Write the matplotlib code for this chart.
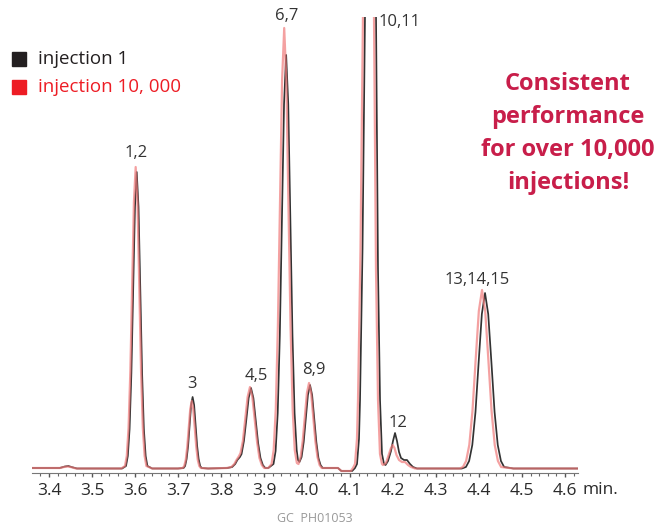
import matplotlib
matplotlib.use("Agg")
import matplotlib.pyplot as plt
from matplotlib.patches import Rectangle
from matplotlib.ticker import MultipleLocator

plt.rcParams["font.family"] = ["Open Sans", "DejaVu Sans"]

# ── Datos: cromatogramas (tiempo en min, señal arbitraria) ──
black_t = [
    3.360, 3.400, 3.425, 3.437, 3.445, 3.452, 3.465, 3.520, 3.570,
    3.5791, 3.5833, 3.5874, 3.5916, 3.5957, 3.5999, 3.6040, 3.6082, 3.6123, 3.6165, 3.6206, 3.6248, 3.6289,
    3.640, 3.700,
    3.7130, 3.7165, 3.7200, 3.7235, 3.7270, 3.7305, 3.7340, 3.7375, 3.7410, 3.7445, 3.7480, 3.7515, 3.7550,
    3.770, 3.815,
    3.8260, 3.8330, 3.8380, 3.8440, 3.8478, 3.8533, 3.8588, 3.8643, 3.8698, 3.8753, 3.8808, 3.8863, 3.8918, 3.8973, 3.9028, 3.910,
    3.9221, 3.9270, 3.9319, 3.9368, 3.9417, 3.9466, 3.9515, 3.9564, 3.9613, 3.9662, 3.9711, 3.9760, 3.9790,
    3.9825, 3.9874, 3.9923, 3.9972, 4.0021, 4.0070, 4.0119, 4.0168, 4.0217, 4.0266, 4.0315, 4.0364,
    4.045, 4.072, 4.080, 4.105,
    4.1116, 4.1163, 4.1209, 4.1233, 4.1291, 4.1349, 4.1395, 4.1477, 4.1558, 4.1605, 4.1651, 4.1698, 4.1744, 4.1791, 4.1826,
    4.1884, 4.1953, 4.2000, 4.2047, 4.2093, 4.2140, 4.2186, 4.2256, 4.2326, 4.2395, 4.2465, 4.2558,
    4.300, 4.3600,
    4.3696, 4.3770, 4.3844, 4.3918, 4.3992, 4.4066, 4.4140, 4.4214, 4.4288, 4.4362, 4.4436, 4.4510, 4.4584,
    4.480, 4.630]
black_y = [
    1, 1, 1, 2.5, 3, 2, 0.5, 0.5, 0.5,
    3, 13, 40, 96, 180, 262, 297, 262, 180, 96, 40, 13, 3,
    0.5, 0.5,
    1, 3, 10, 23, 44, 64, 72, 64, 44, 23, 10, 3, 1,
    0.5, 1,
    2, 5, 9, 12, 15, 28, 49, 71, 81, 71, 49, 26, 11, 4, 1, 1,
    5, 18, 56, 134, 251, 365, 414, 365, 251, 134, 56, 19, 9,
    7, 12, 27, 51, 74, 84, 74, 51, 27, 11, 4, 1,
    1, 1, -2, -2,
    1, 5, 30, 69, 220, 452, 700, 900, 700, 452, 200, 69, 15, 5, 4,
    8, 18, 28, 36, 28, 17, 11, 9, 9, 5, 2, 0.5,
    0.5, 0.5,
    2, 8, 24, 57, 107, 155, 176, 155, 107, 57, 24, 8, 2,
    0.5, 0.5]

red_t = [
    3.360, 3.400, 3.425, 3.435, 3.443, 3.450, 3.463, 3.520, 3.568,
    3.5767, 3.5809, 3.5850, 3.5892, 3.5933, 3.5975, 3.6016, 3.6058, 3.6099, 3.6141, 3.6182, 3.6224, 3.6265,
    3.640, 3.700,
    3.7110, 3.7145, 3.7180, 3.7215, 3.7250, 3.7285, 3.7320, 3.7355, 3.7390, 3.7425, 3.7460, 3.7495, 3.7530,
    3.770, 3.813,
    3.8240, 3.8310, 3.8360, 3.8420, 3.8454, 3.8509, 3.8564, 3.8619, 3.8674, 3.8729, 3.8784, 3.8839, 3.8894, 3.8949, 3.9004, 3.910,
    3.9176, 3.9225, 3.9274, 3.9323, 3.9372, 3.9421, 3.9470, 3.9519, 3.9568, 3.9617, 3.9666, 3.9715, 3.9764,
    3.9802, 3.9851, 3.9900, 3.9949, 3.9998, 4.0047, 4.0096, 4.0145, 4.0194, 4.0243, 4.0292, 4.0341,
    4.045, 4.072, 4.080, 4.102,
    4.1069, 4.1116, 4.1162, 4.1186, 4.1244, 4.1302, 4.1348, 4.1430, 4.1511, 4.1558, 4.1604, 4.1651, 4.1697, 4.1744, 4.1767,
    4.1837, 4.1907, 4.1953, 4.1993, 4.2035, 4.2081, 4.2140, 4.2209, 4.2279, 4.2349, 4.2419, 4.2512,
    4.300, 4.3550,
    4.3626, 4.3700, 4.3774, 4.3848, 4.3922, 4.3996, 4.4070, 4.4144, 4.4218, 4.4292, 4.4366, 4.4440, 4.4514,
    4.480, 4.630]
red_y = [
    1, 1, 1, 2, 2.5, 2, 0.5, 0.5, 0.5,
    3, 13, 41, 98, 183, 267, 302, 267, 183, 98, 41, 13, 3,
    0.5, 0.5,
    1, 3, 9, 22, 41, 60, 68, 60, 41, 22, 9, 3, 1,
    0.5, 1,
    2, 5, 9, 13, 16, 28, 50, 72, 82, 72, 50, 27, 11, 4, 1, 1,
    5, 19, 60, 143, 267, 389, 441, 389, 267, 143, 60, 19, 6,
    5, 12, 28, 52, 76, 86, 76, 52, 28, 12, 4, 1,
    1, 1, -2, -2,
    1, 5, 30, 69, 220, 452, 700, 900, 700, 452, 200, 69, 15, 5, 4,
    6, 15, 21, 24, 21, 14, 9, 7, 7, 4, 2, 0.5,
    0.5, 0.5,
    2, 8, 24, 58, 109, 158, 179, 158, 109, 58, 24, 8, 2,
    0.5, 0.5]

peak_names = ["1,2", "3", "4,5", "6,7", "8,9", "10,11", "12", "13,14,15"]
peak_t = [3.603, 3.7326, 3.8814, 3.9535, 4.0163, 4.2163, 4.2116, 4.3953]
peak_h = [316, 85, 93, 453, 99, 447, 46, 189]

tick_vals = [3.4, 3.5, 3.6, 3.7, 3.8, 3.9, 4.0, 4.1, 4.2, 4.3, 4.4, 4.5, 4.6]
series_names = ["injection 1", "injection 10, 000"]

NEGRO, ROJO_LEY, ROJO_TRAZO, GRANATE = "#231f20", "#ed1c24", "#f07a7a", "#c81e4a"
W, H = 660, 523


def px(x, y):
    """Pixel (desde arriba-izquierda) → fracción de figura."""
    return x / W, 1 - y / H


fig = plt.figure(figsize=(6.6, 5.23), dpi=100)
ax = fig.add_axes([32 / W, 50 / H, 546 / W, 456 / H])
ax.plot(black_t, black_y, color="#333333", lw=1.25, zorder=2)
ax.plot(red_t, red_y, color=ROJO_TRAZO, lw=1.6, alpha=0.7, zorder=3)
ax.set_xlim(3.3605, 4.6302)
ax.set_ylim(-4, 452)

for s in ["top", "right", "left"]:
    ax.spines[s].set_visible(False)
ax.spines["bottom"].set_color("#777777")
ax.set_yticks([])
ax.set_xticks(tick_vals)
ax.set_xticklabels([f"{v:.1f}" for v in tick_vals])
ax.xaxis.set_minor_locator(MultipleLocator(0.02))
ax.tick_params(axis="x", which="major", length=3, width=1, color="#555555",
               labelsize=12.5, labelcolor="#2a2a2a", pad=4)
ax.tick_params(axis="x", which="minor", length=2, width=0.8, color="#666666")

for name, t, h in zip(peak_names, peak_t, peak_h):
    ax.text(t, h, name, ha="center", va="center", fontsize=12,
            color="#333333", clip_on=False)

fig.text(*px(582, 490), "min.", ha="left", va="center", fontsize=12.5, color="#2a2a2a")

# leyenda
for (y, col), name in zip([(59, NEGRO), (87, ROJO_LEY)], series_names):
    x0, y0 = px(12, y + 7)
    fig.patches.append(Rectangle((x0, y0), 14 / W, 14 / H, transform=fig.transFigure,
                                 color=col, figure=fig))
    fig.text(*px(38, y), name, ha="left", va="center", fontsize=13.5, color=col)

fig.text(*px(568, 134), "Consistent\nperformance\nfor over 10,000\ninjections!",
         ha="center", va="center", fontsize=17, fontweight="bold", color=GRANATE,
         linespacing=1.5)

fig.text(*px(315, 518), "GC  PH01053", ha="center", va="center", fontsize=9,
         color="#999999")

fig.savefig("out.png", dpi=100)
